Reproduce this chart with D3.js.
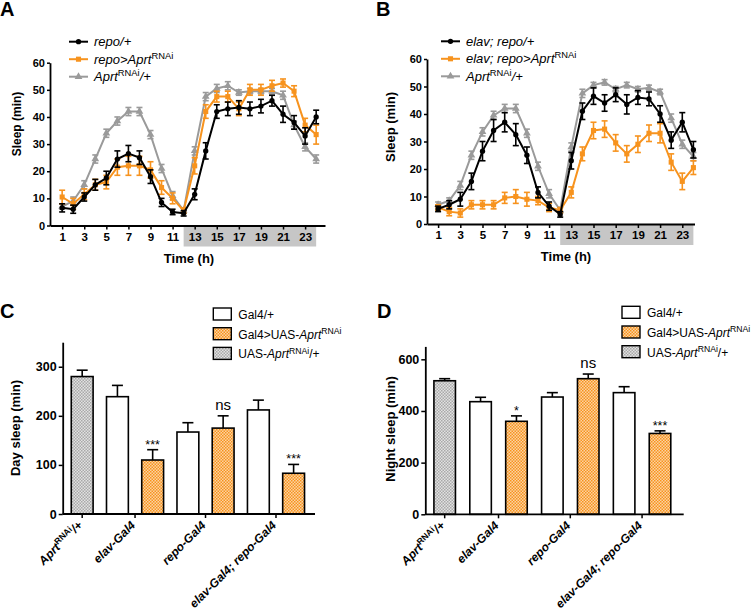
<!DOCTYPE html>
<html>
<head>
<meta charset="utf-8">
<script src="https://cdn.jsdelivr.net/npm/d3@7/dist/d3.min.js"></script>
<style>
  body { margin: 0; background: #fff; }
  svg text { font-family: "Liberation Sans", Arial, sans-serif; }
</style>
</head>
<body>
<svg id="fig" width="754" height="609"></svg>
<script>
// ---- data: sleep profiles (min per hour) ----
const hours = [1, 2, 3, 4, 5, 6, 7, 8, 9, 10, 11, 12, 13, 14, 15, 16, 17, 18, 19, 20, 21, 22, 23, 24];
const hourTicks = [1, 3, 5, 7, 9, 11, 13, 15, 17, 19, 21, 23];
const sleepTicks = [0, 10, 20, 30, 40, 50, 60];

// panel A
const repoCtrl = [6.5, 6, 10.5, 15, 17.5, 24.5, 26.5, 25, 18, 8.5, 5, 4.5, 11.5, 27.5, 42, 43, 43.5, 43, 44, 46, 41, 38, 33, 40];
const repoCtrlSem = [1.5, 1.5, 1.5, 2, 2.5, 3, 3, 2.5, 2.5, 1.5, 1, 1, 2, 3, 2.5, 2.5, 2.5, 2.5, 2.5, 2, 3, 2.5, 3, 2.5];
const repoRnai = [10.5, 8, 11.5, 15, 16, 21.5, 22, 22, 20.5, 14, 10, 5.5, 22, 42, 47.5, 47.5, 43, 50, 50, 51.5, 52.5, 49.5, 37, 33.5];
const repoRnaiSem = [2.5, 2, 2, 2, 2.5, 3, 3.5, 3.5, 3, 2.5, 2, 1, 3, 2.5, 2, 2, 2.5, 2, 2, 2, 1.5, 2, 2.5, 3.5];
const rnaiCtrlA = [7, 9, 15, 24.5, 34, 38.5, 42, 42, 33.5, 21, 11, 5.5, 27.5, 47.5, 50.5, 51.5, 49, 49.5, 49.5, 49.5, 48, 37, 29, 24.5];
const rnaiCtrlASem = [1, 1.5, 1.5, 1.5, 1.5, 1.5, 1.5, 1.5, 1.5, 1.5, 1.5, 1, 1.5, 1.5, 1.5, 1.5, 1, 1, 1, 1, 1.5, 1.5, 1.5, 1.5];

// panel B
const elavRepoCtrl = [5.5, 7, 9, 15.5, 26.5, 34, 37, 32.5, 25, 11.5, 6.5, 3.5, 23, 41, 46.5, 44, 47, 43.5, 46, 45.5, 40, 30.5, 37, 27];
const elavRepoCtrlSem = [1, 1.5, 2.5, 3, 3.5, 4, 3.5, 4, 3, 2, 1.5, 1, 3, 3, 3, 3, 2.5, 3.5, 2.5, 2.5, 3, 3, 3.5, 3];
const elavRepoRnai = [6, 4.5, 4, 7, 7, 7, 9.5, 10, 9, 8.5, 6, 5, 11.5, 25.5, 34, 34.5, 29.5, 25.5, 29, 33, 33, 22.5, 15.5, 20.5];
const elavRepoRnaiSem = [1, 1.5, 1.5, 1.5, 1.5, 1.5, 2, 2.5, 2.5, 1.5, 1.5, 1, 2, 2.5, 3, 3, 3, 3, 3, 3, 3.5, 3, 3, 2.5];
const rnaiCtrlB = [7, 8.5, 14, 25, 33.5, 39.5, 42, 42, 33, 21, 11, 5, 28, 47.5, 50.5, 51.5, 49, 50.5, 49, 49.5, 48, 38.5, 29, 24.5];
const rnaiCtrlBSem = [1, 1, 1.5, 1.5, 1.5, 1.5, 1.5, 1.5, 1.5, 1.5, 1.5, 1, 1.5, 1.5, 1, 1, 1, 1, 1, 1, 1, 1.5, 1.5, 1.5];

// ---- data: total day / night sleep ----
const genotypes = ['AprtRNAi/+', 'elav-Gal4', 'repo-Gal4', 'elav-Gal4; repo-Gal4'];
const daySleepGal4 = [null, 239, 167, 212];
const daySemGal4 = [null, 23, 19, 20];
const daySleepRnai = [null, 110, 175, 83];
const daySemRnai = [null, 21, 25, 18];
const daySleepUas = [280, null, null, null];
const daySemUas = [13, null, null, null];
const daySig = [null, '***', 'ns', '***'];
const dayTicks = [0, 100, 200, 300];

const nightSleepGal4 = [null, 436, 454, 471];
const nightSemGal4 = [null, 17, 17, 23];
const nightSleepRnai = [null, 360, 525, 313];
const nightSemRnai = [null, 21, 18, 10];
const nightSleepUas = [517, null, null, null];
const nightSemUas = [8, null, null, null];
const nightSig = [null, '*', 'ns', '***'];
const nightTicks = [0, 200, 400, 600];

const ORANGE = '#f7931e';
const GREY = '#9a9a9a';
const svg = d3.select('#fig');

// checker patterns used by the bar fills
const defs = svg.append('defs');
function checker(id, light, dark) {
  let p = defs.append('pattern').attr('id', id).attr('patternUnits', 'userSpaceOnUse')
    .attr('width', 3).attr('height', 3);
  p.append('rect').attr('width', 3).attr('height', 3).attr('fill', light);
  p.append('rect').attr('width', 1.5).attr('height', 1.5).attr('fill', dark);
  p.append('rect').attr('x', 1.5).attr('y', 1.5).attr('width', 1.5).attr('height', 1.5).attr('fill', dark);
}
checker('chkOrange', '#fcd3a3', ORANGE);
checker('chkGrey', '#e2e2e2', '#a9a9a9');

// text with italic parts and superscripts
function richText(text, parts, size) {
  let up = false;
  parts.forEach(p => {
    let ts = text.append('tspan').text(p.t).attr('font-style', p.i ? 'italic' : 'normal');
    if (p.sup) {
      ts.attr('font-size', size * 0.72).attr('dy', -size * 0.38);
      up = true;
    } else if (up) {
      ts.attr('dy', size * 0.38);
      up = false;
    }
  });
}

function styleAxis(ax, fontSize) {
  ax.select('.domain').attr('stroke-width', 1.8);
  ax.selectAll('.tick line').attr('stroke-width', 1.5);
  ax.selectAll('.tick text')
    .attr('font-family', '"Liberation Sans", Arial, sans-serif')
    .attr('font-size', fontSize).attr('font-weight', 'bold').attr('fill', '#000');
}

function panelLetter(x, y, s) {
  svg.append('text').attr('x', x).attr('y', y).attr('font-size', 20)
    .attr('font-weight', 'bold').text(s);
}

function drawProfile(p) {
  let g = svg.append('g');
  let x = d3.scaleLinear().domain(p.xDomain).range([p.left, p.right]);
  let y = d3.scaleLinear().domain([0, 60]).range([p.bottom, p.top]);

  // night band
  g.append('rect')
    .attr('x', x(12)).attr('width', x(24) - x(12))
    .attr('y', p.bottom + 1).attr('height', 20)
    .attr('fill', '#c6c6c6');

  let xAx = g.append('g').attr('transform', 'translate(0,' + p.bottom + ')')
    .call(d3.axisBottom(x).tickValues(hourTicks).tickSize(4).tickPadding(3).tickSizeOuter(0));
  styleAxis(xAx, 11.5);
  let yAx = g.append('g').attr('transform', 'translate(' + p.left + ',0)')
    .call(d3.axisLeft(y).tickValues(sleepTicks).tickSize(3).tickPadding(2).tickSizeOuter(0));
  styleAxis(yAx, 11);

  g.append('text')
    .attr('transform', 'translate(' + p.ylabX + ',' + p.ylabY + ') rotate(-90)')
    .attr('text-anchor', 'middle').attr('font-size', p.ylabSize).attr('font-weight', 'bold')
    .text('Sleep (min)');
  g.append('text').attr('x', p.tlabX).attr('y', p.bottom + 37)
    .attr('text-anchor', 'middle').attr('font-size', 13).attr('font-weight', 'bold')
    .text('Time (h)');

  let line = d3.line().x(d => x(d.h)).y(d => y(d.v));
  p.series.forEach(s => {
    let pts = hours.map((h, i) => ({ h: h, v: s.vals[i], e: s.sem[i] }));
    let sg = g.append('g');
    sg.append('path').datum(pts).attr('d', line)
      .attr('fill', 'none').attr('stroke', s.color).attr('stroke-width', 2);
    let eb = sg.selectAll('g.eb').data(pts).enter().append('g')
      .attr('stroke', s.color).attr('stroke-width', 1.6);
    eb.append('line').attr('x1', d => x(d.h)).attr('x2', d => x(d.h))
      .attr('y1', d => y(d.v - d.e)).attr('y2', d => y(d.v + d.e));
    eb.append('line').attr('x1', d => x(d.h) - 3).attr('x2', d => x(d.h) + 3)
      .attr('y1', d => y(d.v - d.e)).attr('y2', d => y(d.v - d.e));
    eb.append('line').attr('x1', d => x(d.h) - 3).attr('x2', d => x(d.h) + 3)
      .attr('y1', d => y(d.v + d.e)).attr('y2', d => y(d.v + d.e));
    sg.selectAll('path.mk').data(pts).enter().append('path')
      .attr('d', d3.symbol().type(s.shape).size(s.size))
      .attr('transform', d => 'translate(' + x(d.h) + ',' + y(d.v) + ')')
      .attr('fill', s.color);
  });

  // legend (drawn in the order of the figure)
  p.legend.forEach((s, i) => {
    let ly = p.legY + i * 17.5;
    g.append('line').attr('x1', p.legX).attr('x2', p.legX + 19)
      .attr('y1', ly).attr('y2', ly).attr('stroke', s.color).attr('stroke-width', 2);
    g.append('path').attr('d', d3.symbol().type(s.shape).size(s.size))
      .attr('transform', 'translate(' + (p.legX + 9.5) + ',' + ly + ')').attr('fill', s.color);
    let t = g.append('text').attr('x', p.legX + 25).attr('y', ly + 4.5)
      .attr('font-size', 13).attr('font-style', 'italic');
    richText(t, s.label, 13);
  });
}

function drawBars(p) {
  let g = svg.append('g');
  let bars = [];
  genotypes.forEach((gt, gi) => {
    [['gal4', p.gal4, p.gal4Sem, '#fff'],
     ['rnai', p.rnai, p.rnaiSem, 'url(#chkOrange)'],
     ['uas', p.uas, p.uasSem, 'url(#chkGrey)']].forEach(s => {
      if (s[1][gi] != null) {
        bars.push({ key: gi + '-' + s[0], gi: gi, series: s[0], v: s[1][gi], e: s[2][gi], fill: s[3] });
      }
    });
  });

  let x = d3.scaleBand().domain(bars.map(b => b.key)).range([p.left, p.right])
    .paddingInner(p.padIn).paddingOuter(p.padOut).align(p.align);
  let y = d3.scaleLinear().domain([0, p.yMax]).range([p.bottom, p.top]);
  let bw = x.bandwidth();
  let groupX = genotypes.map((gt, gi) => d3.mean(bars.filter(b => b.gi === gi), b => x(b.key) + bw / 2));

  // error bars (upper only)
  let eb = g.selectAll('g.eb').data(bars).enter().append('g')
    .attr('stroke', '#000').attr('stroke-width', 1.6);
  eb.append('line').attr('x1', d => x(d.key) + bw / 2).attr('x2', d => x(d.key) + bw / 2)
    .attr('y1', d => y(d.v)).attr('y2', d => y(d.v + d.e));
  eb.append('line').attr('x1', d => x(d.key) + bw / 2 - 5.5).attr('x2', d => x(d.key) + bw / 2 + 5.5)
    .attr('y1', d => y(d.v + d.e)).attr('y2', d => y(d.v + d.e));

  g.selectAll('rect.bar').data(bars).enter().append('rect')
    .attr('x', d => x(d.key)).attr('width', bw)
    .attr('y', d => y(d.v)).attr('height', d => y(0) - y(d.v))
    .attr('fill', d => d.fill).attr('stroke', '#000').attr('stroke-width', 1.6);

  // axes
  let yAx = g.append('g').attr('transform', 'translate(' + p.left + ',0)')
    .call(d3.axisLeft(y).tickValues(p.ticks).tickSize(4).tickPadding(2).tickSizeOuter(0));
  styleAxis(yAx, 12.5);
  g.append('line').attr('x1', p.left).attr('x2', p.right)
    .attr('y1', p.bottom).attr('y2', p.bottom).attr('stroke', '#000').attr('stroke-width', 1.8);
  g.selectAll('line.gt').data(groupX).enter().append('line')
    .attr('x1', d => d).attr('x2', d => d).attr('y1', p.bottom).attr('y2', p.bottom + 4)
    .attr('stroke', '#000').attr('stroke-width', 1.5);

  let labParts = [
    [{ t: 'Aprt', i: true }, { t: 'RNAi', sup: true, i: false }, { t: '/+', i: true }],
    [{ t: 'elav-Gal4', i: true }],
    [{ t: 'repo-Gal4', i: true }],
    [{ t: 'elav-Gal4; repo-Gal4', i: true }]
  ];
  groupX.forEach((gx, gi) => {
    let t = g.append('text')
      .attr('transform', 'translate(' + (gx + 1) + ',' + (p.bottom + 12) + ') rotate(-45)')
      .attr('text-anchor', 'end').attr('font-size', 12).attr('font-weight', 'bold');
    richText(t, labParts[gi], 12);
  });

  // significance marks over the RNAi bars
  bars.filter(b => b.series === 'rnai').forEach(b => {
    let s = p.sig[b.gi];
    let top = y(b.v + b.e);
    let t = g.append('text').attr('x', x(b.key) + bw / 2).attr('text-anchor', 'middle');
    if (s === 'ns') t.attr('y', top - 6).attr('font-size', 15).text(s);
    else t.attr('y', top - 1).attr('font-size', 12.5).text(s);
  });

  g.append('text')
    .attr('transform', 'translate(' + p.ylabX + ',' + p.ylabY + ') rotate(-90)')
    .attr('text-anchor', 'middle').attr('font-size', 13).attr('font-weight', 'bold')
    .text(p.ylab);

  // legend
  let leg = [
    { fill: '#fff', parts: [{ t: 'Gal4/+' }] },
    { fill: 'url(#chkOrange)', parts: [{ t: 'Gal4>UAS-' }, { t: 'Aprt', i: true }, { t: 'RNAi', sup: true }] },
    { fill: 'url(#chkGrey)', parts: [{ t: 'UAS-' }, { t: 'Aprt', i: true }, { t: 'RNAi', sup: true }, { t: '/+' }] }
  ];
  leg.forEach((l, i) => {
    let ly = p.legY + i * 19.7;
    g.append('rect').attr('x', p.legX).attr('y', ly - 6).attr('width', 18).attr('height', 12)
      .attr('fill', l.fill).attr('stroke', '#000').attr('stroke-width', 1.4);
    let t = g.append('text').attr('x', p.legX + 25).attr('y', ly + 5).attr('font-size', 12);
    richText(t, l.parts, 12);
  });
}

// ---- panels ----
let blackA = { color: '#000', shape: d3.symbolCircle, size: 22 };
let orangeA = { color: ORANGE, shape: d3.symbolSquare, size: 26 };
let greyA = { color: GREY, shape: d3.symbolTriangle, size: 26 };

drawProfile({
  xDomain: [-0.1, 24.8], left: 50, right: 325, top: 62.7, bottom: 225.5,
  ylabX: 21, ylabY: 124, ylabSize: 12, tlabX: 189,
  legX: 69, legY: 41.7,
  series: [
    Object.assign({ vals: rnaiCtrlA, sem: rnaiCtrlASem }, greyA),
    Object.assign({ vals: repoRnai, sem: repoRnaiSem }, orangeA),
    Object.assign({ vals: repoCtrl, sem: repoCtrlSem }, blackA)
  ],
  legend: [
    Object.assign({ label: [{ t: 'repo/+', i: true }] }, blackA),
    Object.assign({ label: [{ t: 'repo>Aprt', i: true }, { t: 'RNAi', sup: true }] }, orangeA),
    Object.assign({ label: [{ t: 'Aprt', i: true }, { t: 'RNAi', sup: true }, { t: '/+', i: true }] }, greyA)
  ]
});

drawProfile({
  xDomain: [0, 24.1], left: 427, right: 694.5, top: 59, bottom: 224,
  ylabX: 395, ylabY: 127, ylabSize: 13, tlabX: 566,
  legX: 441, legY: 41.3,
  series: [
    Object.assign({ vals: rnaiCtrlB, sem: rnaiCtrlBSem }, greyA),
    Object.assign({ vals: elavRepoRnai, sem: elavRepoRnaiSem }, orangeA),
    Object.assign({ vals: elavRepoCtrl, sem: elavRepoCtrlSem }, blackA)
  ],
  legend: [
    Object.assign({ label: [{ t: 'elav; repo/+', i: true }] }, blackA),
    Object.assign({ label: [{ t: 'elav; repo>Aprt', i: true }, { t: 'RNAi', sup: true }] }, orangeA),
    Object.assign({ label: [{ t: 'Aprt', i: true }, { t: 'RNAi', sup: true }, { t: '/+', i: true }] }, greyA)
  ]
});

drawBars({
  left: 62.7, right: 315, top: 342.2, bottom: 514, yMax: 350, ticks: dayTicks,
  padIn: 0.38, padOut: 0.27, align: 0.45,
  gal4: daySleepGal4, gal4Sem: daySemGal4, rnai: daySleepRnai, rnaiSem: daySemRnai,
  uas: daySleepUas, uasSem: daySemUas, sig: daySig,
  ylab: 'Day sleep (min)', ylabX: 20, ylabY: 428, legX: 213.3, legY: 314
});

drawBars({
  left: 425.3, right: 683.7, top: 346.4, bottom: 514.3, yMax: 650, ticks: nightTicks,
  padIn: 0.4, padOut: 0.3, align: 0.4,
  gal4: nightSleepGal4, gal4Sem: nightSemGal4, rnai: nightSleepRnai, rnaiSem: nightSemRnai,
  uas: nightSleepUas, uasSem: nightSemUas, sig: nightSig,
  ylab: 'Night sleep (min)', ylabX: 395, ylabY: 429, legX: 622, legY: 312.3
});

panelLetter(0, 16, 'A');
panelLetter(376, 16, 'B');
panelLetter(0, 318, 'C');
panelLetter(377, 318, 'D');
</script>
</body>
</html>
